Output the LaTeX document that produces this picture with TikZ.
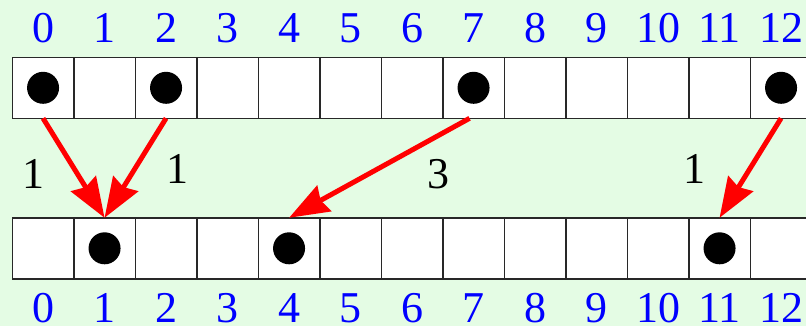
\documentclass[tikz,border=0pt]{standalone}
\usepackage{fontspec}
\setmainfont{Liberation Serif}
\usetikzlibrary{arrows.meta}
\definecolor{bggreen}{RGB}{228,252,228}
\definecolor{idxblue}{RGB}{0,0,255}
\definecolor{arrred}{RGB}{255,0,0}
\definecolor{cellline}{RGB}{40,40,40}
\tikzset{
  cell/.style={draw=cellline, fill=white, line width=1.4pt, minimum width=61.5pt, minimum height=61pt, inner sep=0pt, outer sep=0pt},
  dot/.style={circle, fill=black, minimum size=32pt, inner sep=0pt},
  idx/.style={text=idxblue, anchor=base, inner sep=0pt, font=\fontsize{44}{44}\selectfont},
  wlabel/.style={text=black, anchor=base, inner sep=0pt, font=\fontsize{44}{44}\selectfont},
  move/.style={draw=arrred, line width=5pt, -{Stealth[length=40pt, width=29pt, inset=4pt]}}
}
\begin{document}
\begin{tikzpicture}[x=1pt, y=-1pt]
\fill[bggreen] (0,0) rectangle (806,326);
\useasboundingbox (0,0) rectangle (806,326);
\begin{scope}
\clip (0,0) rectangle (806,326);
\foreach \i in {0,...,12} {
  \node[cell] (t\i) at ({43.05+61.5*\i}, 87.8) {};
  \node[cell] (b\i) at ({43.05+61.5*\i}, 248.3) {};
  \node[idx] (tl\i) at ({43.05+61.5*\i}, 43) {\i};
  \node[idx] (bl\i) at ({43.05+61.5*\i}, 322) {\i};
}
\foreach \i in {0,2,7,12} { \node[dot] (td\i) at (t\i) {}; }
\foreach \i in {1,4,11} { \node[dot] (bd\i) at (b\i) {}; }
\draw[move] (t0.south) -- (b1.north);
\draw[move] (t2.south) -- (b1.north);
\draw[move] ([xshift=-4pt]t7.south) -- (b4.north);
\draw[move] (t12.south) -- (b11.north);
\node[wlabel] (w1) at (34,188) {1};
\node[wlabel] (w2) at (177.5,183) {1};
\node[wlabel] (w3) at (438,188) {3};
\node[wlabel] (w4) at (694,183) {1};
\end{scope}
\end{tikzpicture}
\end{document}
